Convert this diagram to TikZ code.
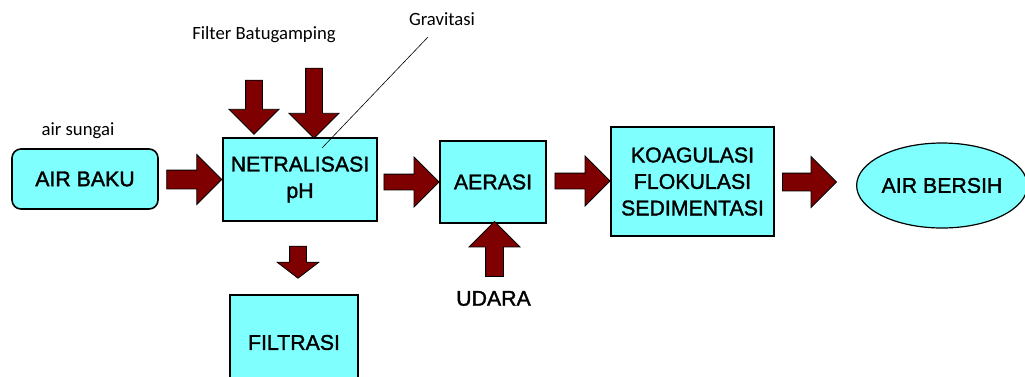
\documentclass[tikz,border=0pt]{standalone}
\usepackage{fontspec}
\setmainfont[FakeBold=1.5]{Liberation Sans}
\newfontfamily\labelfont{Carlito}
\usetikzlibrary{shapes.geometric,shapes.arrows}
\definecolor{cyanmuda}{HTML}{80FFFF}
\definecolor{merahtua}{HTML}{7F0000}
\tikzset{
    kotak/.style={draw=black, line width=1.6pt, fill=cyanmuda, align=center,
        inner sep=0pt, font=\fontsize{21.3}{26.5}\selectfont},
    teks/.style={anchor=base, inner sep=0pt, font=\labelfont\fontsize{18.7}{22}\selectfont},
    panah/.style n args={3}{single arrow, draw=black, line width=0.8pt, fill=merahtua,
        text height=0pt, text depth=0pt, inner xsep=0pt, inner ysep=#2,
        single arrow head extend=#3, minimum height=#1}
}
\begin{document}
\begin{tikzpicture}[x=1pt,y=-1pt]
                    \clip (0,0) rectangle (1025,376);
                    \node[kotak, rounded corners=9pt, minimum width=146pt, minimum height=60pt]
                        (baku) at (85,179) {AIR BAKU};
                    \node[kotak, minimum width=154pt, minimum height=83pt]
                        (netral) at (300,179.5) {NETRALISASI\\pH};
                    \node[kotak, minimum width=106pt, minimum height=82pt]
                        (aerasi) at (493,182) {AERASI};
                    \node[kotak, minimum width=163pt, minimum height=109pt]
                        (koag) at (692.5,181.5) {KOAGULASI\\FLOKULASI\\SEDIMENTASI};
                    \node[kotak, ellipse, line width=1.2pt, minimum width=161pt, minimum height=85pt]
                        (bersih) at (942,185.5) {AIR BERSIH};
                    \node[kotak, minimum width=128pt, minimum height=95pt]
                        (filtrasi) at (294,342.5) {FILTRASI};

                    \node[teks] (sungai) at (78,135.7) {air sungai};
                    \node[teks] (filter) at (264,39) {Filter Batugamping};
                    \node[teks] (gravitasi) at (442,25.7) {Gravitasi};
                    \node[anchor=base, inner sep=0pt, font=\fontsize{21.3}{26}\selectfont]
                        (udara) at (493.5,305.7) {UDARA};

                    \node[panah={55pt}{9pt}{15.5pt}] (p1) at (189.5,179.5) {};
                    \node[panah={55pt}{7.5pt}{17pt}] (p2) at (407.5,182) {};
                    \node[panah={55pt}{7.5pt}{17pt}] (p3) at (578.5,181) {};
                    \node[panah={54pt}{8.5pt}{16.5pt}] (p4) at (805,182) {};
                    \node[panah={55pt}{8.5pt}{16.5pt}, rotate=90] (pudara) at (494.5,253.5) {};
                    \node[panah={54pt}{8pt}{16.5pt}, rotate=-90] (pfilter1) at (254,103) {};
                    \node[panah={70pt}{8pt}{16.5pt}, rotate=-90] (pfilter2) at (314,99) {};
                    \node[panah={32pt}{8pt}{12.5pt}, single arrow tip angle=105, rotate=-90]
                        (pfiltrasi) at (298,259) {};

                    \coordinate (g1) at (428,37);
                    \coordinate (g2) at (322,148);
                    \draw[line width=0.6pt] (g1) -- (g2);
\end{tikzpicture}
\end{document}
